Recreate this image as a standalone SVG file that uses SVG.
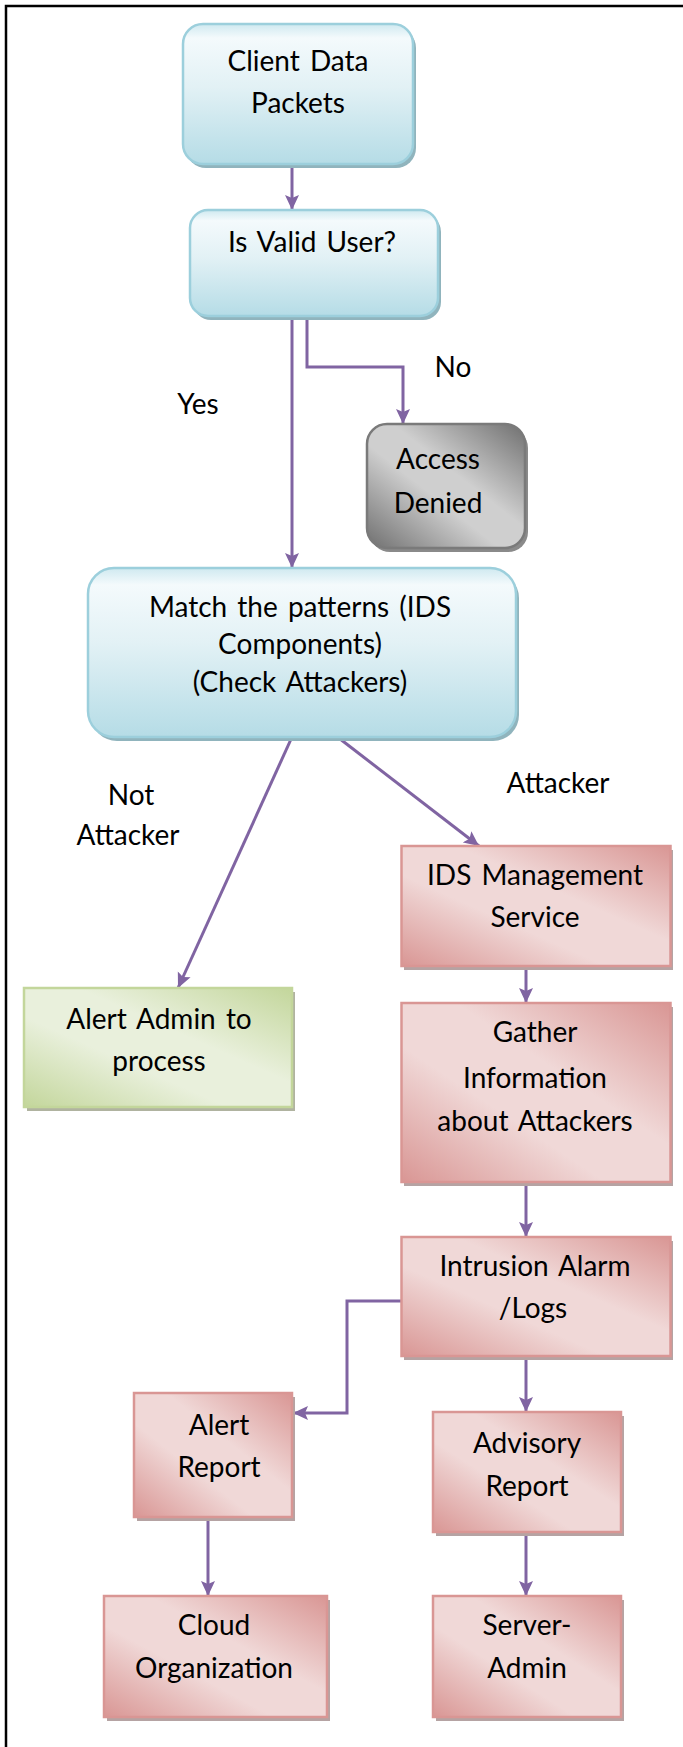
<svg xmlns="http://www.w3.org/2000/svg" width="683" height="1747" viewBox="0 0 683 1747">
<style>
text{font-family:Lato,"Liberation Sans",sans-serif;font-size:28px;word-spacing:3px;fill:#000;text-anchor:middle}
.blue{fill:url(#gBlue);stroke:#9ccfdc;stroke-width:2.5}
.pink{fill:url(#gPink);stroke:#d99694;stroke-width:2.5}
.green{fill:url(#gGreen);stroke:#c3d69b;stroke-width:2.5}
.gray{fill:url(#gGray);stroke:#7a7a7a;stroke-width:2.5}
.sb{fill:#90b4bd}
.sp{fill:#b5a3a3}
.sg{fill:#b0b3a0}
.sk{fill:#8a8a8a}
.conn{fill:none;stroke:#8064a2;stroke-width:3;marker-end:url(#arr)}
</style>
<defs>
<linearGradient id="gBlue" x1="0" y1="0" x2="0" y2="1">
<stop offset="0" stop-color="#cfe9f0"/>
<stop offset="0.1" stop-color="#f4fafc"/>
<stop offset="0.45" stop-color="#e2f1f5"/>
<stop offset="1" stop-color="#b5dce6"/>
</linearGradient>
<linearGradient id="gPink" x1="0" y1="1" x2="1" y2="0">
<stop offset="0" stop-color="#d99694"/>
<stop offset="0.38" stop-color="#f0d8d7"/>
<stop offset="0.6" stop-color="#f0d8d7"/>
<stop offset="1" stop-color="#d99694"/>
</linearGradient>
<linearGradient id="gGreen" x1="0" y1="1" x2="1" y2="0">
<stop offset="0" stop-color="#c3d69b"/>
<stop offset="0.38" stop-color="#e9f0dc"/>
<stop offset="0.6" stop-color="#e9f0dc"/>
<stop offset="1" stop-color="#c3d69b"/>
</linearGradient>
<linearGradient id="gGray" x1="0" y1="1" x2="1" y2="0">
<stop offset="0" stop-color="#6f6f6f"/>
<stop offset="0.42" stop-color="#cfcfcf"/>
<stop offset="0.58" stop-color="#cfcfcf"/>
<stop offset="1" stop-color="#6f6f6f"/>
</linearGradient>
<marker id="arr" markerUnits="userSpaceOnUse" markerWidth="16" markerHeight="16" viewBox="0 0 16 16" refX="15" refY="8" orient="auto">
<path d="M0,1 L15,8 L0,15 L3,8 Z" fill="#8064a2"/>
</marker>
</defs>
<rect width="683" height="1747" fill="#fff"/>
<path d="M6,1747 V6 H683" fill="none" stroke="#000" stroke-width="2.5"/>

<g id="connectors">
<path class="conn" d="M292,165 V210"/>
<path class="conn" d="M292,316 V568"/>
<path class="conn" d="M307,316 V367 H403 V424"/>
<path class="conn" d="M292,737 L178,988"/>
<path class="conn" d="M337.5,737 L479,846"/>
<path class="conn" d="M526,966 V1003"/>
<path class="conn" d="M526,1182 V1237"/>
<path class="conn" d="M401.5,1301 H347 V1413 H293"/>
<path class="conn" d="M526,1356 V1412"/>
<path class="conn" d="M208,1517 V1596"/>
<path class="conn" d="M526,1532 V1596"/>
</g>

<g id="labels">
<text x="198" y="414">Yes</text>
<text x="453" y="377">No</text>
<text x="131" y="805">Not</text>
<text x="128" y="845">Attacker</text>
<text x="558" y="793">Attacker</text>
</g>

<g id="client">
<rect class="sb" x="186" y="28" width="230" height="140" rx="20"/>
<rect class="blue" x="183" y="24" width="230" height="140" rx="20"/>
<text x="298" y="71">Client Data</text>
<text x="298" y="113">Packets</text>
</g>

<g id="valid">
<rect class="sb" x="193" y="214" width="248" height="106" rx="18"/>
<rect class="blue" x="190" y="210" width="248" height="106" rx="18"/>
<text x="312" y="252">Is Valid User?</text>
</g>

<g id="denied">
<rect class="sk" x="370" y="428" width="158" height="124" rx="20"/>
<rect class="gray" x="367" y="424" width="158" height="124" rx="20"/>
<text x="438" y="469">Access</text>
<text x="438" y="513">Denied</text>
</g>

<g id="match">
<rect class="sb" x="91" y="572" width="428" height="169" rx="26"/>
<rect class="blue" x="88" y="568" width="428" height="169" rx="26"/>
<text x="300" y="617">Match the patterns (IDS</text>
<text x="300" y="654">Components)</text>
<text x="300" y="692">(Check Attackers)</text>
</g>

<g id="alertadmin">
<rect class="sg" x="27" y="992" width="268" height="119"/>
<rect class="green" x="24" y="988" width="268" height="119"/>
<text x="159" y="1029">Alert Admin to</text>
<text x="159" y="1071">process</text>
</g>

<g id="idsmgmt">
<rect class="sp" x="404" y="850" width="269" height="120"/>
<rect class="pink" x="401.5" y="846" width="269" height="120"/>
<text x="535" y="885">IDS Management</text>
<text x="535" y="927">Service</text>
</g>

<g id="gather">
<rect class="sp" x="404" y="1007" width="269" height="179"/>
<rect class="pink" x="401.5" y="1003" width="269" height="179"/>
<text x="535" y="1042">Gather</text>
<text x="535" y="1088">Information</text>
<text x="535" y="1131">about Attackers</text>
</g>

<g id="intrusion">
<rect class="sp" x="404" y="1241" width="269" height="119"/>
<rect class="pink" x="401.5" y="1237" width="269" height="119"/>
<text x="535" y="1276">Intrusion Alarm</text>
<text x="533" y="1318">/Logs</text>
</g>

<g id="alertreport">
<rect class="sp" x="137" y="1397" width="158" height="124"/>
<rect class="pink" x="134" y="1393" width="158" height="124"/>
<text x="219" y="1435">Alert</text>
<text x="219" y="1477">Report</text>
</g>

<g id="advisory">
<rect class="sp" x="436" y="1416" width="188" height="120"/>
<rect class="pink" x="433" y="1412" width="188" height="120"/>
<text x="527" y="1453">Advisory</text>
<text x="527" y="1496">Report</text>
</g>

<g id="cloud">
<rect class="sp" x="107" y="1600" width="223" height="121"/>
<rect class="pink" x="104" y="1596" width="223" height="121"/>
<text x="214" y="1635">Cloud</text>
<text x="214" y="1678">Organization</text>
</g>

<g id="server">
<rect class="sp" x="436" y="1600" width="188" height="121"/>
<rect class="pink" x="433" y="1596" width="188" height="121"/>
<text x="527" y="1635">Server-</text>
<text x="527" y="1678">Admin</text>
</g>
</svg>
